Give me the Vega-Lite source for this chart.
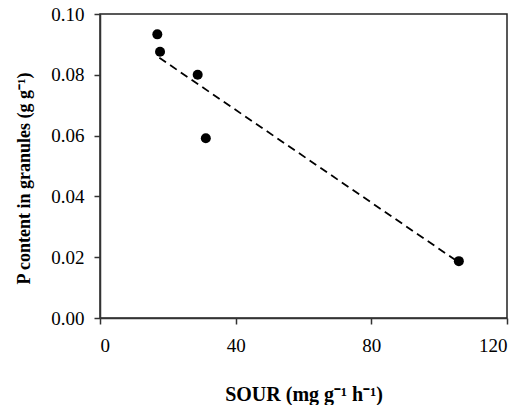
{
  "$schema": "https://vega.github.io/schema/vega-lite/v6.json",
  "width": 407,
  "height": 304,
  "autosize": {"type": "none"},
  "padding": {"left": 100, "top": 14, "right": 24, "bottom": 87},
  "background": "white",
  "config": {
    "view": {"stroke": "#222", "strokeWidth": 1.5},
    "axis": {
      "grid": false,
      "labelFont": "Liberation Serif",
      "labelFontSize": 19,
      "labelColor": "black",
      "titleFont": "Liberation Serif",
      "titleFontSize": 18,
      "titleFontWeight": "bold",
      "titleColor": "black",
      "domainColor": "#333",
      "domainWidth": 1.5,
      "tickColor": "#333",
      "tickWidth": 1.5,
      "tickSize": 6
    }
  },
  "layer": [
    {
      "data": {"values": [
        {"x": 17.5, "y": 0.0856},
        {"x": 105.8, "y": 0.0183}
      ]},
      "mark": {"type": "line", "color": "black", "strokeDash": [8, 5], "strokeWidth": 1.8},
      "encoding": {
        "x": {"field": "x", "type": "quantitative"},
        "y": {"field": "y", "type": "quantitative"}
      }
    },
    {
      "data": {"values": [
        {"sour": 16.9, "p": 0.0933},
        {"sour": 17.7, "p": 0.0876},
        {"sour": 28.8, "p": 0.0800},
        {"sour": 31.2, "p": 0.0591},
        {"sour": 105.8, "p": 0.0187}
      ]},
      "mark": {"type": "point", "filled": true, "color": "black", "opacity": 1, "size": 100},
      "encoding": {
        "x": {
          "field": "sour", "type": "quantitative",
          "scale": {"domain": [0, 120], "nice": false, "zero": false},
          "axis": {
            "title": "SOUR (mg g⁻¹ h⁻¹)",
            "titleFontSize": 20,
            "values": [0, 40, 80, 120],
            "labelPadding": 12,
            "titleBaseline": "middle",
            "titleY": 76
          }
        },
        "y": {
          "field": "p", "type": "quantitative",
          "scale": {"domain": [0, 0.1], "nice": false, "zero": false},
          "axis": {
            "title": "P content in granules (g g⁻¹)",
            "values": [0, 0.02, 0.04, 0.06, 0.08, 0.1],
            "format": ".2f",
            "labelPadding": 10,
            "titleBaseline": "middle",
            "titleX": -76,
            "titleY": 164
          }
        }
      }
    }
  ]
}
